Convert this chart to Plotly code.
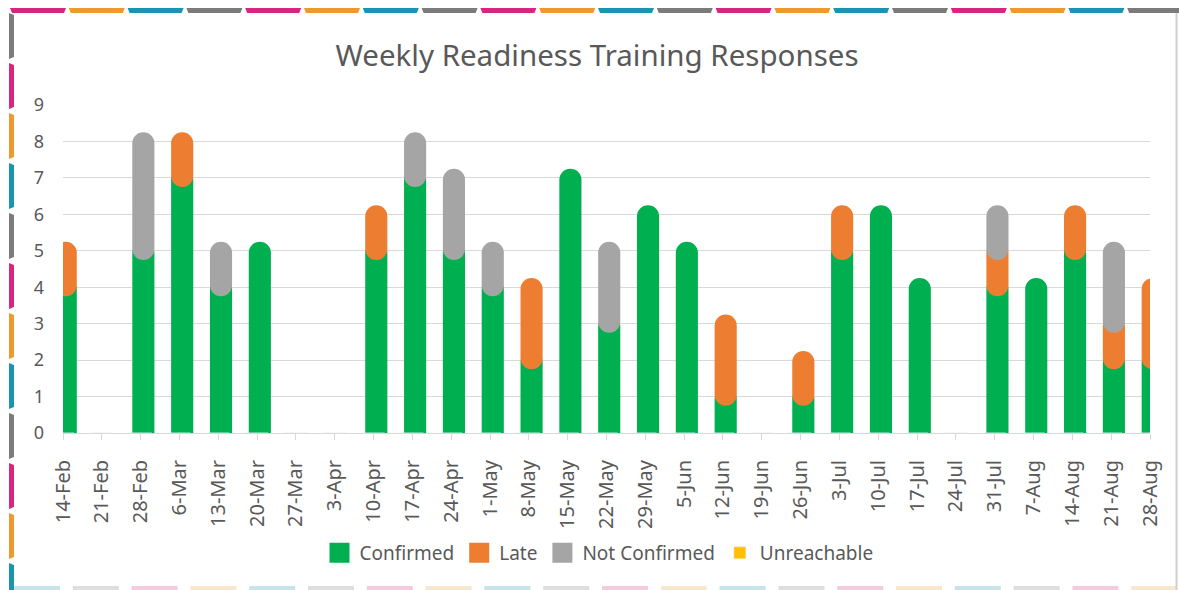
import plotly.graph_objects as go

# ---------------- data ----------------
weeks = ["14-Feb", "21-Feb", "28-Feb", "6-Mar", "13-Mar", "20-Mar", "27-Mar", "3-Apr",
         "10-Apr", "17-Apr", "24-Apr", "1-May", "8-May", "15-May", "22-May", "29-May",
         "5-Jun", "12-Jun", "19-Jun", "26-Jun", "3-Jul", "10-Jul", "17-Jul", "24-Jul",
         "31-Jul", "7-Aug", "14-Aug", "21-Aug", "28-Aug"]
confirmed = [4, 0, 5, 7, 4, 5, 0, 0, 5, 7, 5, 4, 2, 7, 3, 6, 5, 1, 0, 1, 5, 6, 4, 0, 4, 4, 5, 2, 2]
late = [1, 0, 0, 1, 0, 0, 0, 0, 1, 0, 0, 0, 2, 0, 0, 0, 0, 2, 0, 1, 1, 0, 0, 0, 1, 0, 1, 1, 2]
not_confirmed = [0, 0, 3, 0, 1, 0, 0, 0, 0, 1, 2, 1, 0, 0, 2, 0, 0, 0, 0, 0, 0, 0, 0, 0, 1, 0, 0, 2, 0]
unreachable = [0, 0, 0, 0, 0, 0, 0, 0, 0, 0, 0, 0, 0, 0, 0, 0, 0, 0, 0, 0, 0, 0, 0, 0, 0, 0, 0, 0, 0]
y_ticks = [0, 1, 2, 3, 4, 5, 6, 7, 8, 9]

series_names = ["Confirmed", "Late", "Not Confirmed"]
series_values = [confirmed, late, not_confirmed]
series_colors = ["#00B050", "#ED7D31", "#A5A5A5"]
UNREACH_COLOR = "#FFC000"

# ---------------- style constants ----------------
W, H = 1179, 590
ML, MR, MT, MB = 63, 29, 105, 157
PW, PH = W - ML - MR, H - MT - MB
TEXT = "#595959"
GRID = "#D9D9D9"
FONT = "Noto Sans"
BAR_W = 0.57          # bar width in category units
BAR_SHIFT = 0.07      # slight right shift of bars, category units
CAP = 0.25            # rounded-cap overshoot (value units)
FOOT = 0.6            # lowest segment starts below the axis so its bottom stays square

fig = go.Figure()

# stacked "capsule" bars (each segment drawn over the one below)
cum = [0] * len(weeks)
for name, vals, col in zip(series_names, series_values, series_colors):
    bases, lens = [], []
    for i, v in enumerate(vals):
        lo, hi = cum[i], cum[i] + v
        if v <= 0:
            bases.append(None); lens.append(None)
        elif lo == 0:
            bases.append(-FOOT); lens.append(hi + CAP + FOOT)
        else:
            bases.append(lo - CAP); lens.append(hi - lo + 2 * CAP)
        cum[i] = hi
    fig.add_trace(go.Bar(x=weeks, y=lens, base=bases, width=BAR_W,
                         offset=-BAR_W / 2 + BAR_SHIFT,
                         legendgroup=name, showlegend=False, name=name,
                         hoverinfo="skip",
                         marker=dict(color=col, line=dict(width=0), cornerradius="50%")))

# legend proxies
for k, (name, col) in enumerate(zip(series_names, series_colors)):
    fig.add_trace(go.Scatter(x=[None], y=[None], mode="markers", name=name,
                             legendgroup=name, legendrank=k + 1,
                             marker=dict(symbol="square", size=16, color=col,
                                         line=dict(width=4, color=col))))
fig.add_trace(go.Bar(x=weeks, y=unreachable, name="Unreachable", legendrank=4,
                     marker=dict(color=UNREACH_COLOR), width=BAR_W))

# ---------------- decorative frame ----------------
def xp(px):
    return (px - ML) / PW

def yp(py):
    return (H - MB - py) / PH

shapes = []
frame_cols = ["#D6267F", "#EC9A2E", "#1B94B2", "#7B7B7B"]
# top band
x = 10.0
k = 0
while x < W:
    x1 = min(x + 56, W + 2)
    path = "M {} {} L {} {} L {} {} L {} {} Z".format(
        xp(x), yp(8), xp(x1), yp(8), xp(x1 - 2), yp(13), xp(x + 2), yp(13))
    shapes.append(dict(type="path", xref="paper", yref="paper", path=path,
                       fillcolor=frame_cols[k % 4], line=dict(width=0), layer="above"))
    x += 58.8
    k += 1
# left band
left_cols = ["#7B7B7B", "#D6267F", "#EC9A2E", "#1B94B2"]
y = 13.0
k = 0
while y < H:
    y1 = min(y + 46, H + 2)
    path = "M {} {} L {} {} L {} {} L {} {} Z".format(
        xp(9), yp(y), xp(9), yp(y1), xp(14), yp(y1 - 2), xp(14), yp(y + 2))
    shapes.append(dict(type="path", xref="paper", yref="paper", path=path,
                       fillcolor=left_cols[k % 4], line=dict(width=0), layer="above"))
    y += 50
    k += 1
# bottom faint band
x = 14.0
k = 3
while x < W:
    x1 = min(x + 46, W)
    shapes.append(dict(type="rect", xref="paper", yref="paper",
                       x0=xp(x), x1=xp(x1), y0=yp(586), y1=yp(590),
                       fillcolor=left_cols[k % 4], opacity=0.25, line=dict(width=0),
                       layer="above"))
    x += 58.8
    k += 1
# right thin border
shapes.append(dict(type="line", xref="paper", yref="paper",
                   x0=xp(1176.5), x1=xp(1176.5), y0=yp(13), y1=yp(590),
                   line=dict(color="#D0D0D0", width=2), layer="above"))

fig.update_layout(
    width=W, height=H,
    margin=dict(l=ML, r=MR, t=MT, b=MB, autoexpand=False),
    paper_bgcolor="white", plot_bgcolor="white",
    barmode="overlay",
    font=dict(family=FONT, color=TEXT),
    title=dict(text="Weekly Readiness Training Responses",
               font=dict(family=FONT, size=29.5, color=TEXT),
               x=597 / W, xanchor="center", xref="container",
               y=1 - 56 / H, yanchor="middle", yref="container"),
    xaxis=dict(type="category", range=[0, len(weeks) - 1],
               showgrid=False, showline=True, linecolor=GRID, linewidth=1,
               ticks="outside", ticklen=6, tickcolor=GRID, tickwidth=1,
               tickangle=-90, tickfont=dict(family=FONT, size=20, color=TEXT),
               ticklabelstandoff=12, zeroline=False),
    yaxis=dict(range=[0, 9], tickvals=y_ticks, showgrid=True, gridcolor=GRID,
               gridwidth=1, zeroline=False, showline=False, ticks="",
               tickfont=dict(family=FONT, size=18, color=TEXT),
               ticklabelstandoff=18),
    legend=dict(orientation="h", x=xp(599), xanchor="center",
                y=1 - 553 / H, yref="container", yanchor="middle",
                font=dict(family=FONT, size=19, color=TEXT),
                itemwidth=30, traceorder="normal", bgcolor="rgba(0,0,0,0)"),
    shapes=shapes,
    showlegend=True,
)

fig.write_html("out.html", config={"displayModeBar": False},
               post_script="document.body.style.margin='0px';document.body.style.padding='0px';")
